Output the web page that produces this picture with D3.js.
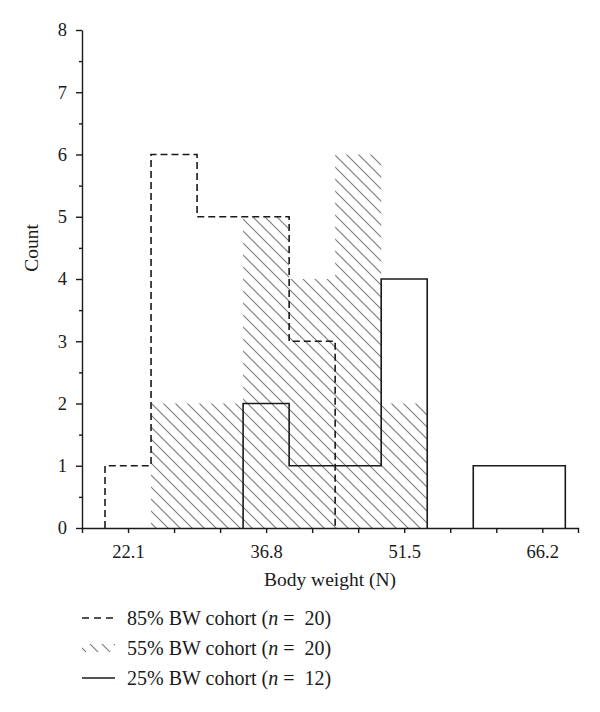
<!doctype html>
<meta charset="utf-8" />
<style>
    body { margin: 0; background: #fff; }
    text { font-family: "Liberation Serif", "DejaVu Serif", serif; fill: #1a1a1a; }
</style>
<svg></svg>

<script src="https://cdn.jsdelivr.net/npm/d3@7"></script>

<script>
    // bin centres (N), counts per cohort
    var binCenters = [22.1, 27.0, 31.9, 36.8, 41.7, 46.6, 51.5, 56.4, 61.3, 66.2];
    var binWidth = 4.9;
    var bw85 = [1, 6, 5, 5, 3, 0, 0, 0, 0, 0];
    var bw55 = [0, 2, 2, 5, 4, 6, 2, 0, 0, 0];
    var bw25 = [0, 0, 0, 2, 1, 1, 4, 0, 1, 1];
    var xLabels = ['22.1', '36.8', '51.5', '66.2'];
    var legendLabels = ['85% BW cohort (', '55% BW cohort (', '25% BW cohort ('];
    var legendN = [20, 20, 12];

    var svg = d3.select('svg')
        .attr('width', 600)
        .attr('height', 712)

    var x = d3.scaleLinear().domain([17.2, 70]).range([82, 578]);
    var y = d3.scaleLinear().domain([0, 8]).range([528, 30]);

    var defs = svg.append('defs');
    var pat = defs.append('pattern')
        .attr('id', 'hatch')
        .attr('patternUnits', 'userSpaceOnUse')
        .attr('width', 12)
        .attr('height', 12)
    pat.append('path')
        .attr('d', 'M0,0L12,12M-6,6L6,18M6,-6L18,6')
        .style('stroke', '#7a7a7a')
        .style('stroke-width', 1.1)

    // 55% hatched bars
    svg.append('g').selectAll('rect')
        .data(binCenters.map(function (c, i) { return { c: c, v: bw55[i] }; }).filter(function (d) { return d.v > 0; }))
        .enter().append('rect')
        .attr('x', function (d) { return x(d.c - binWidth / 2); })
        .attr('width', function (d) { return x(d.c + binWidth / 2) - x(d.c - binWidth / 2); })
        .attr('y', function (d) { return y(d.v); })
        .attr('height', function (d) { return y(0) - y(d.v); })
        .style('fill', 'url(#hatch)')

    // step outlines from a count series
    function stepRuns(counts) {
        var runs = [], cur = null;
        counts.forEach(function (v, i) {
            var l = binCenters[i] - binWidth / 2, r = binCenters[i] + binWidth / 2;
            if (v > 0) {
                if (!cur) { cur = [[l, 0]]; runs.push(cur); }
                cur.push([l, v], [r, v]);
            } else if (cur) {
                cur.push([cur[cur.length - 1][0], 0]);
                cur = null;
            }
        });
        if (cur) cur.push([cur[cur.length - 1][0], 0]);
        return runs;
    }

    var line = d3.line()
        .x(function (d) { return x(d[0]); })
        .y(function (d) { return y(d[1]); });

    svg.append('g').selectAll('path')
        .data(stepRuns(bw85))
        .enter().append('path')
        .attr('d', line)
        .style('fill', 'none')
        .style('stroke', '#1a1a1a')
        .style('stroke-width', 1.6)
        .style('stroke-dasharray', '7,4')

    svg.append('g').selectAll('path')
        .data(stepRuns(bw25))
        .enter().append('path')
        .attr('d', line)
        .style('fill', 'none')
        .style('stroke', '#1a1a1a')
        .style('stroke-width', 1.6)

    // axes
    var xAxis = svg.append('g')
        .attr('transform', 'translate(0,' + y(0) + ')')
        .call(d3.axisBottom(x)
            .tickValues(binCenters)
            .tickSize(5)
            .tickSizeOuter(5)
            .tickPadding(7)
            .tickFormat(function (d, i) { return i % 3 === 0 ? xLabels[i / 3] : ''; }))
    xAxis.selectAll('text').style('font-size', '18.5px').attr('dy', '0.95em').style('fill', '#1a1a1a')

    var yAxis = svg.append('g')
        .attr('transform', 'translate(' + x.range()[0] + ',0)')
        .call(d3.axisLeft(y)
            .tickValues(d3.range(0, 8.01, 0.5))
            .tickSize(6)
            .tickSizeOuter(0)
            .tickPadding(9)
            .tickFormat(function (d) { return d % 1 === 0 ? d : ''; }))
    yAxis.selectAll('.tick line').attr('x2', function (d) { return d % 1 === 0 ? -6 : -3; })
    yAxis.selectAll('text').style('font-size', '18.5px').style('fill', '#1a1a1a')

    svg.selectAll('.domain, .tick line').style('stroke', '#1a1a1a').style('stroke-width', 1.4)

    svg.append('text')
        .attr('x', 330)
        .attr('y', 586)
        .attr('text-anchor', 'middle')
        .style('font-size', '19.5px')
        .text('Body weight (N)')

    svg.append('text')
        .attr('transform', 'translate(38,248) rotate(-90)')
        .attr('text-anchor', 'middle')
        .style('font-size', '19.5px')
        .text('Count')

    // legend
    var leg = svg.append('g').selectAll('g')
        .data(legendLabels)
        .enter().append('g')
        .attr('transform', function (d, i) { return 'translate(82,' + (618 + i * 30) + ')'; })

    leg.each(function (d, i) {
        var g = d3.select(this);
        if (i === 1) {
            g.append('rect').attr('x', 0).attr('y', -4).attr('width', 33).attr('height', 8)
                .style('fill', 'url(#hatch)')
        } else {
            g.append('line').attr('x1', 0).attr('x2', 33)
                .style('stroke', '#1a1a1a').style('stroke-width', 1.6)
                .style('stroke-dasharray', i === 0 ? '7,5' : null)
        }
        var t = g.append('text').attr('x', 45).attr('y', 7).style('font-size', '20px');
        t.append('tspan').text(d);
        t.append('tspan').style('font-style', 'italic').text('n');
        t.append('tspan').text(' =  ' + legendN[i] + ')').attr('xml:space', 'preserve');
    });
</script>
